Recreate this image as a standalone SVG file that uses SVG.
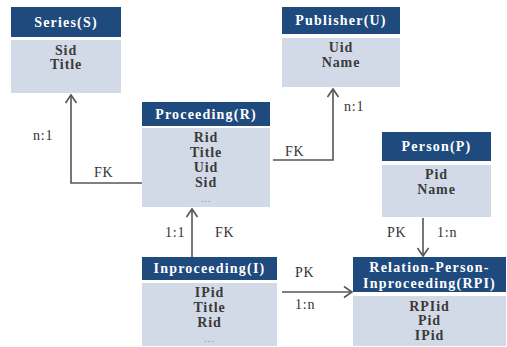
<svg xmlns="http://www.w3.org/2000/svg" width="507" height="347" viewBox="0 0 507 347">
<defs>
<style>
.hd{fill:#1f4a7e}
.bd{fill:#d3dae7}
.ht{font-family:"Liberation Serif",serif;font-weight:bold;font-size:14px;fill:#ffffff;text-anchor:middle;letter-spacing:1.2px}
.bt{font-family:"Liberation Serif",serif;font-weight:bold;font-size:14px;fill:#3a3a3a;text-anchor:middle;letter-spacing:0.9px}
.dots{font-family:"Liberation Serif",serif;font-size:10px;fill:#8a8a8a;text-anchor:middle;letter-spacing:1px}
.lb{font-family:"Liberation Serif",serif;font-size:14px;fill:#333333;letter-spacing:0.8px}
.cn{fill:none;stroke:#555555;stroke-width:1.6}
</style>
<marker id="arr" markerUnits="userSpaceOnUse" markerWidth="14" markerHeight="14" refX="9" refY="6" orient="auto">
<path d="M1,0.5 L9,6 L1,11.5" fill="none" stroke="#555555" stroke-width="1.6"/>
</marker>
</defs>
<rect width="507" height="347" fill="#ffffff"/>

<g id="connectors">
<path class="cn" d="M142,183 H71 V95" marker-end="url(#arr)"/>
<path class="cn" d="M273,160 H333 V89" marker-end="url(#arr)"/>
<path class="cn" d="M192,257 V209" marker-end="url(#arr)"/>
<path class="cn" d="M423,218 V256" marker-end="url(#arr)"/>
<path class="cn" d="M282,292 H352" marker-end="url(#arr)"/>
<text class="lb" x="33" y="140">n:1</text>
<text class="lb" x="94" y="177">FK</text>
<text class="lb" x="344" y="111">n:1</text>
<text class="lb" x="285" y="156">FK</text>
<text class="lb" x="165" y="237">1:1</text>
<text class="lb" x="215" y="237">FK</text>
<text class="lb" x="387" y="237">PK</text>
<text class="lb" x="437" y="237">1:n</text>
<text class="lb" x="295" y="277">PK</text>
<text class="lb" x="295" y="309">1:n</text>
</g>

<g id="series">
<rect class="hd" x="11" y="7" width="110" height="30"/>
<rect class="bd" x="11" y="40" width="110" height="53"/>
<text class="ht" x="66" y="27">Series(S)</text>
<text class="bt" x="66" y="55">Sid</text>
<text class="bt" x="66" y="69">Title</text>
</g>

<g id="publisher">
<rect class="hd" x="282" y="7" width="118" height="27"/>
<rect class="bd" x="282" y="38" width="118" height="49"/>
<text class="ht" x="341" y="25">Publisher(U)</text>
<text class="bt" x="341" y="52">Uid</text>
<text class="bt" x="341" y="67">Name</text>
</g>

<g id="proceeding">
<rect class="hd" x="142" y="102" width="128" height="24"/>
<rect class="bd" x="142" y="128" width="128" height="79"/>
<text class="ht" x="206" y="119">Proceeding(R)</text>
<text class="bt" x="206" y="142">Rid</text>
<text class="bt" x="206" y="157">Title</text>
<text class="bt" x="206" y="172">Uid</text>
<text class="bt" x="206" y="187">Sid</text>
<text class="dots" x="206" y="202">...</text>
</g>

<g id="person">
<rect class="hd" x="382" y="132" width="109" height="29"/>
<rect class="bd" x="382" y="165" width="109" height="52"/>
<text class="ht" x="436.5" y="151">Person(P)</text>
<text class="bt" x="436.5" y="179">Pid</text>
<text class="bt" x="436.5" y="194">Name</text>
</g>

<g id="inproceeding">
<rect class="hd" x="142" y="257" width="135" height="23"/>
<rect class="bd" x="142" y="283" width="135" height="63"/>
<text class="ht" x="209.5" y="273">Inproceeding(I)</text>
<text class="bt" x="209.5" y="297">IPid</text>
<text class="bt" x="209.5" y="312">Title</text>
<text class="bt" x="209.5" y="327">Rid</text>
<text class="dots" x="209.5" y="342">...</text>
</g>

<g id="rpi">
<rect class="hd" x="353" y="257" width="153" height="35"/>
<rect class="bd" x="353" y="296" width="153" height="50"/>
<text class="ht" x="429.5" y="272">Relation-Person-</text>
<text class="ht" x="429.5" y="288">Inproceeding(RPI)</text>
<text class="bt" x="429.5" y="311">RPIid</text>
<text class="bt" x="429.5" y="325">Pid</text>
<text class="bt" x="429.5" y="340">IPid</text>
</g>
</svg>
